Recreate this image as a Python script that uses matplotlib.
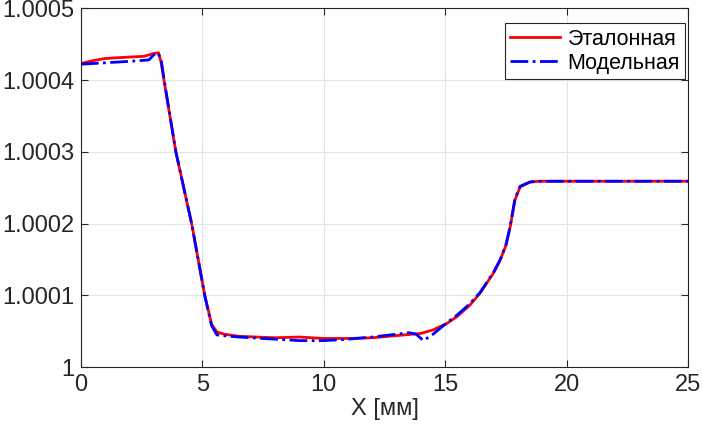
import numpy as np
import matplotlib.pyplot as plt

plt.rcParams['font.family'] = ['Liberation Sans', 'DejaVu Sans']

# Эталонная кривая (x в мм, y - 1 в единицах 1e-4)
x_ref = [0, 0.5, 1, 2, 2.6, 3.0, 3.2, 3.3, 3.42, 3.91, 4.56, 5.1, 5.38, 5.6, 5.9,
         6.5, 8, 9, 10, 11, 12, 13, 14, 14.5, 15.07, 15.5, 16, 16.43, 17.0, 17.26,
         17.5, 17.67, 17.87, 18.08, 18.49, 18.9, 25]
y_ref = [4.23, 4.27, 4.30, 4.32, 4.33, 4.37, 4.38, 4.25, 4.0, 3.0, 2.0, 1.0, 0.6,
         0.49, 0.46, 0.43, 0.41, 0.42, 0.40, 0.40, 0.41, 0.44, 0.47, 0.52, 0.61,
         0.71, 0.86, 1.03, 1.32, 1.49, 1.70, 1.95, 2.33, 2.51, 2.58, 2.59, 2.59]

# Модельная кривая
x_mod = [0, 1, 2, 2.8, 3.0, 3.15, 3.3, 3.42, 3.91, 4.56, 5.1, 5.38, 5.6, 5.8,
         6.5, 8, 9, 10, 11, 12, 13, 13.5, 13.8, 14.1, 14.5, 15.07, 15.5, 16, 16.43,
         17.0, 17.26, 17.5, 17.67, 17.87, 18.08, 18.49, 18.9, 25]
y_mod = [4.22, 4.24, 4.26, 4.28, 4.35, 4.38, 4.3, 4.02, 3.0, 2.0, 1.0, 0.58, 0.45,
         0.44, 0.42, 0.39, 0.37, 0.37, 0.39, 0.42, 0.46, 0.48, 0.46, 0.37, 0.46,
         0.62, 0.73, 0.88, 1.04, 1.33, 1.50, 1.71, 1.96, 2.35, 2.52, 2.58, 2.59,
         2.59]

y_ticks = [1, 1.0001, 1.0002, 1.0003, 1.0004, 1.0005]
y_labels = ['1', '1.0001', '1.0002', '1.0003', '1.0004', '1.0005']
x_ticks = [0, 5, 10, 15, 20, 25]

yr = 1 + np.array(y_ref) * 1e-4
ym = 1 + np.array(y_mod) * 1e-4

fig = plt.figure(figsize=(7.03, 4.33), dpi=100)
ax = fig.add_axes([0.115, 0.152, 0.864, 0.829])

ax.plot(x_ref, yr, color='r', lw=2, label='Эталонная')
ax.plot(x_mod, ym, color='b', lw=2, ls='-.', label='Модельная')

ax.set_xlim(0, 25)
ax.set_ylim(1, 1.0005)
ax.set_xticks(x_ticks)
ax.set_yticks(y_ticks)
ax.set_yticklabels(y_labels)
ax.grid(True, color='#e3e3e3', lw=0.8)
ax.set_axisbelow(True)
ax.tick_params(direction='in', top=True, right=True, labelsize=17,
               colors='#262626', length=5, width=0.8, pad=5)
for s in ax.spines.values():
    s.set_color('#262626')
    s.set_linewidth(0.8)
ax.set_xlabel('X [мм]', fontsize=17, color='#262626', labelpad=1)

leg = ax.legend(loc='upper right', bbox_to_anchor=(0.995, 0.958), fontsize=15.5,
                fancybox=False, framealpha=1, edgecolor='#262626',
                borderaxespad=0, handlelength=2.3, borderpad=0.25,
                labelspacing=0.15, handletextpad=0.35)
leg.get_frame().set_linewidth(0.8)

fig.savefig('out.png', dpi=100)
